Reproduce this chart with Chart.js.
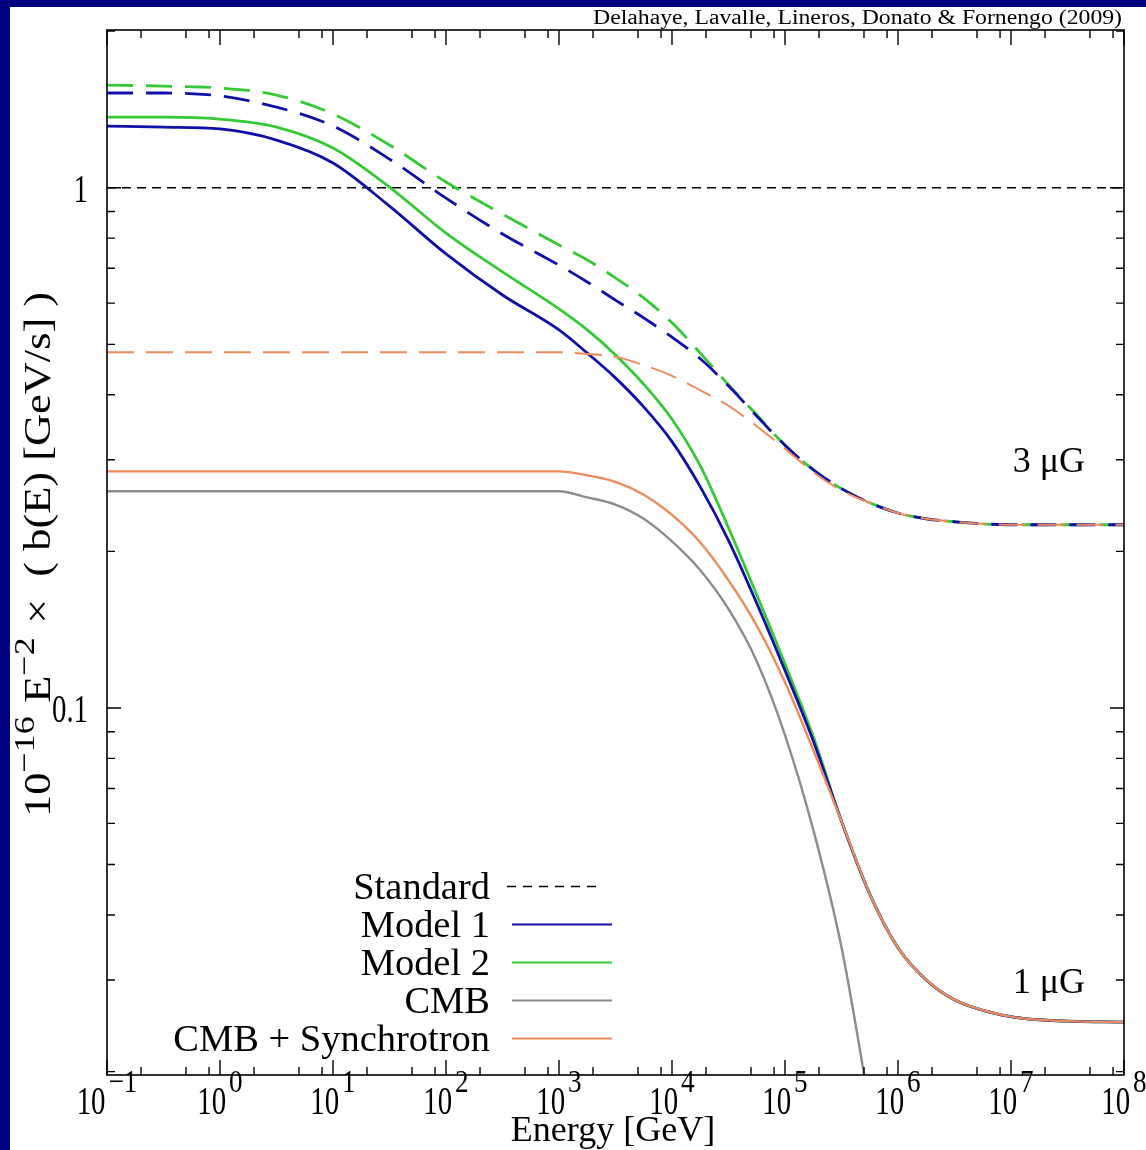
<!DOCTYPE html>
<html>
<head>
<meta charset="utf-8">
<script src="https://cdn.jsdelivr.net/npm/chart.js@4.4.1/dist/chart.umd.min.js"></script>
<style>
      html, body { margin: 0; padding: 0; background: #000080; }
      #cadre { position: absolute; left: 10px; top: 7px; width: 1136px; height: 1143px; background: #fff; }
</style>
</head>
<body>
<div id="cadre"><canvas id="pertes" width="1136" height="1143"></canvas></div>
<script>
// énergies (GeV) communes à toutes les courbes
const energies = [0.1, 0.316, 1, 3.16, 10, 31.6, 100, 316, 1000, 1780, 3160, 5620, 1e4, 1.78e4, 3.16e4, 5.62e4, 1e5, 1.78e5, 3.16e5, 5.62e5, 1e6, 1.78e6, 3.16e6, 1e7, 3.16e7, 1e8]

// B = 1 µG (traits pleins)
const model1_1uG = [1.314, 1.308, 1.297, 1.235, 1.116, 0.922, 0.746, 0.622, 0.533, 0.481, 0.431, 0.379, 0.325, 0.266, 0.210, 0.159, 0.118, 0.0864, 0.0606, 0.0439, 0.0346, 0.0300, 0.0275, 0.0255, 0.0250, 0.0249]
const model2_1uG = [1.367, 1.367, 1.355, 1.308, 1.192, 1.003, 0.818, 0.689, 0.585, 0.533, 0.477, 0.419, 0.359, 0.292, 0.222, 0.165, 0.1215, 0.0880, 0.0606, 0.0439, 0.0346, 0.0300, 0.0275, 0.0255, 0.0250, 0.0249]
const sync_1uG = [0.285, 0.285, 0.285, 0.285, 0.285, 0.285, 0.285, 0.285, 0.285, 0.280, 0.272, 0.257, 0.235, 0.208, 0.176, 0.144, 0.112, 0.0830, 0.0606, 0.0439, 0.0346, 0.0300, 0.0275, 0.0255, 0.0250, 0.0249]
const cmb = [0.261, 0.261, 0.261, 0.261, 0.261, 0.261, 0.261, 0.261, 0.261, 0.254, 0.246, 0.231, 0.209, 0.184, 0.155, 0.123, 0.0887, 0.0583, 0.0347, 0.0171, null, null, null, null, null, null]

// B = 3 µG (tirets)
const model1_3uG = [1.521, 1.521, 1.501, 1.429, 1.314, 1.135, 0.955, 0.815, 0.710, 0.659, 0.608, 0.562, 0.516, 0.469, 0.416, 0.364, 0.320, 0.287, 0.264, 0.248, 0.237, 0.231, 0.228, 0.225, 0.225, 0.225]
const model2_3uG = [1.575, 1.568, 1.555, 1.507, 1.386, 1.208, 1.026, 0.890, 0.776, 0.726, 0.671, 0.614, 0.550, 0.481, 0.418, 0.366, 0.320, 0.287, 0.264, 0.248, 0.237, 0.231, 0.228, 0.225, 0.225, 0.225]
const sync_3uG = [0.483, 0.483, 0.483, 0.483, 0.483, 0.483, 0.483, 0.483, 0.483, 0.479, 0.473, 0.456, 0.435, 0.408, 0.381, 0.348, 0.315, 0.284, 0.262, 0.248, 0.237, 0.231, 0.228, 0.225, 0.225, 0.225]

// cas standard
const standardE = [0.1, 1e8]
const standardB = [1, 1]

// graduations
const xDecades = [-1, 0, 1, 2, 3, 4, 5, 6, 7, 8]
const xMinorMult = [2, 5, 8]
const yMajor = [0.1, 1]
const yMajorLabels = ['0.1', '1']
const yMinor = [0.02, 0.03, 0.04, 0.05, 0.06, 0.07, 0.08, 0.09, 0.2, 0.3, 0.4, 0.5, 0.6, 0.7, 0.8, 0.9, 2]

const legendLabels = ['Standard', 'Model 1', 'Model 2', 'CMB', 'CMB + Synchrotron']

const BLEU = '#1010a8'
const VERT = '#35c935'
const GRIS = '#8c8c8c'
const ORANGE = '#ee8b5b'
const SERIF = '"Liberation Serif", "DejaVu Serif", serif'

function points(xs, ys) {
      return xs.map((x, i) => ({x: x, y: ys[i]}))
}

function courbe(label, ys, color, width, dash) {
      return {
            label: label,
            data: points(energies, ys),
            borderColor: color,
            borderWidth: width,
            borderDash: dash || [],
            cubicInterpolationMode: 'monotone',
            pointRadius: 0,
            fill: false
      }
}

// texte étiré ou comprimé horizontalement
function texte(ctx, str, x, y, font, comp) {
      ctx.save()
      ctx.font = font
      ctx.translate(x, y)
      ctx.scale(comp, 1)
      ctx.fillText(str, 0, 0)
      ctx.restore()
}
function largeur(ctx, str, font, comp) {
      ctx.save()
      ctx.font = font
      const w = ctx.measureText(str).width * comp
      ctx.restore()
      return w
}

const habillage = {
      id: 'habillage',
      afterDatasetsDraw(chart) {
            const ctx = chart.ctx
            const {left, right, top, bottom} = chart.chartArea
            const sx = chart.scales.x
            const sy = chart.scales.y
            ctx.save()
            ctx.strokeStyle = '#000'
            ctx.fillStyle = '#000'
            ctx.textAlign = 'left'
            ctx.textBaseline = 'alphabetic'
            ctx.lineWidth = 1.6
            ctx.strokeRect(left, top, right - left, bottom - top)

            ctx.lineWidth = 1.4
            ctx.beginPath()
            // axe des énergies, haut et bas
            xDecades.forEach(d => {
                  const p = sx.getPixelForValue(Math.pow(10, d))
                  ctx.moveTo(p, bottom); ctx.lineTo(p, bottom - 15)
                  ctx.moveTo(p, top); ctx.lineTo(p, top + 15)
                  if (d < 8) xMinorMult.forEach(m => {
                        const q = sx.getPixelForValue(m * Math.pow(10, d))
                        ctx.moveTo(q, bottom); ctx.lineTo(q, bottom - 8)
                        ctx.moveTo(q, top); ctx.lineTo(q, top + 8)
                  })
            })
            // axe vertical, gauche et droite
            yMajor.forEach(v => {
                  const p = sy.getPixelForValue(v)
                  ctx.moveTo(left, p); ctx.lineTo(left + 14, p)
                  ctx.moveTo(right, p); ctx.lineTo(right - 14, p)
            })
            yMinor.forEach(v => {
                  const p = sy.getPixelForValue(v)
                  ctx.moveTo(left, p); ctx.lineTo(left + 8, p)
                  ctx.moveTo(right, p); ctx.lineTo(right - 8, p)
            })
            ctx.stroke()

            // étiquettes des décades 10^n
            const fBase = '40px ' + SERIF
            const fExp = '32px ' + SERIF
            xDecades.forEach(d => {
                  const p = sx.getPixelForValue(Math.pow(10, d))
                  const exp = d < 0 ? '\u2212' + (-d) : String(d)
                  const wb = largeur(ctx, '10', fBase, 0.72)
                  const we = largeur(ctx, exp, fExp, 0.85)
                  const x0 = p - (wb + 3 + we) / 2
                  texte(ctx, '10', x0, 1107, fBase, 0.72)
                  texte(ctx, exp, x0 + wb + 3, 1085, fExp, 0.85)
            })
            // étiquettes verticales
            yMajor.forEach((v, i) => {
                  const p = sy.getPixelForValue(v)
                  const w = largeur(ctx, yMajorLabels[i], fBase, 0.72)
                  texte(ctx, yMajorLabels[i], 78 - w, p + 14, fBase, 0.72)
            })

            // titre de l'axe des x
            ctx.textAlign = 'center'
            ctx.font = '36px ' + SERIF
            ctx.fillText('Energy [GeV]', 603, 1134)

            // titre de l'axe des y, tourné et étiré
            ctx.save()
            ctx.translate(40, 810)
            ctx.rotate(-Math.PI / 2)
            ctx.scale(1.2, 1)
            ctx.textAlign = 'left'
            const morceaux = [['10', 0], ['\u221216', 1], [' E', 0], ['\u22122', 1], [' \u00d7  ( b(E) [GeV/s] )', 0]]
            let pos = 0
            morceaux.forEach(([t, sup]) => {
                  ctx.font = (sup ? '30px ' : '37px ') + SERIF
                  ctx.fillText(t, pos, sup ? -16 : 0)
                  pos += ctx.measureText(t).width + (sup ? 2 : 0)
            })
            ctx.restore()

            // annotations des champs magnétiques
            ctx.textAlign = 'right'
            ctx.font = '36px ' + SERIF
            ctx.fillText('3 \u03bcG', 1075, 465)
            ctx.fillText('1 \u03bcG', 1075, 986)

            // référence en haut à droite
            const ref = 'Delahaye, Lavalle, Lineros, Donato & Fornengo (2009)'
            const fRef = '20px ' + SERIF
            const wRef = largeur(ctx, ref, fRef, 1)
            ctx.textAlign = 'left'
            texte(ctx, ref, 1112 - 529, 17, fRef, 529 / wRef)

            // légende
            const styles = [
                  {c: '#000', w: 1.5, d: [9, 7], x0: 497, x1: 592},
                  {c: BLEU, w: 2, d: [], x0: 502, x1: 602},
                  {c: VERT, w: 2, d: [], x0: 502, x1: 602},
                  {c: GRIS, w: 2, d: [], x0: 502, x1: 602},
                  {c: ORANGE, w: 2, d: [], x0: 502, x1: 602}
            ]
            const fLeg = '37px ' + SERIF
            legendLabels.forEach((lab, i) => {
                  const base = 892 + i * 38
                  const w = largeur(ctx, lab, fLeg, 1.04)
                  ctx.fillStyle = '#000'
                  texte(ctx, lab, 480 - w, base, fLeg, 1.04)
                  ctx.beginPath()
                  ctx.strokeStyle = styles[i].c
                  ctx.lineWidth = styles[i].w
                  ctx.setLineDash(styles[i].d)
                  ctx.moveTo(styles[i].x0, base - 12.5)
                  ctx.lineTo(styles[i].x1, base - 12.5)
                  ctx.stroke()
            })
            ctx.setLineDash([])
            ctx.restore()
      }
}

window.onload = () => {
      const ctx = document.getElementById('pertes').getContext('2d')
      new Chart(ctx, {
            type: 'line',
            data: {
                  datasets: [
                        courbe('CMB + Synchrotron', sync_1uG, ORANGE, 2.4),
                        courbe('CMB + Synchrotron 3', sync_3uG, ORANGE, 2, [27, 12]),
                        courbe('Model 1', model1_1uG, BLEU, 2.8),
                        courbe('Model 2', model2_1uG, VERT, 2.8),
                        courbe('Model 1 3', model1_3uG, BLEU, 2.8, [26, 13]),
                        courbe('Model 2 3', model2_3uG, VERT, 2.8, [26, 13]),
                        courbe('CMB', cmb, GRIS, 2.4),
                        {
                              label: 'Standard',
                              data: points(standardE, standardB),
                              borderColor: '#000',
                              borderWidth: 1.5,
                              borderDash: [9, 6],
                              pointRadius: 0
                        }
                  ]
            },
            options: {
                  responsive: false,
                  animation: false,
                  layout: {padding: {left: 97, top: 23, right: 22, bottom: 75}},
                  plugins: {legend: {display: false}, tooltip: {enabled: false}},
                  scales: {
                        x: {type: 'logarithmic', min: 0.1, max: 1e8, display: false},
                        y: {type: 'logarithmic', min: 0.0197, max: 2.01, display: false}
                  }
            },
            plugins: [habillage]
      })
}
</script>
</body>
</html>
